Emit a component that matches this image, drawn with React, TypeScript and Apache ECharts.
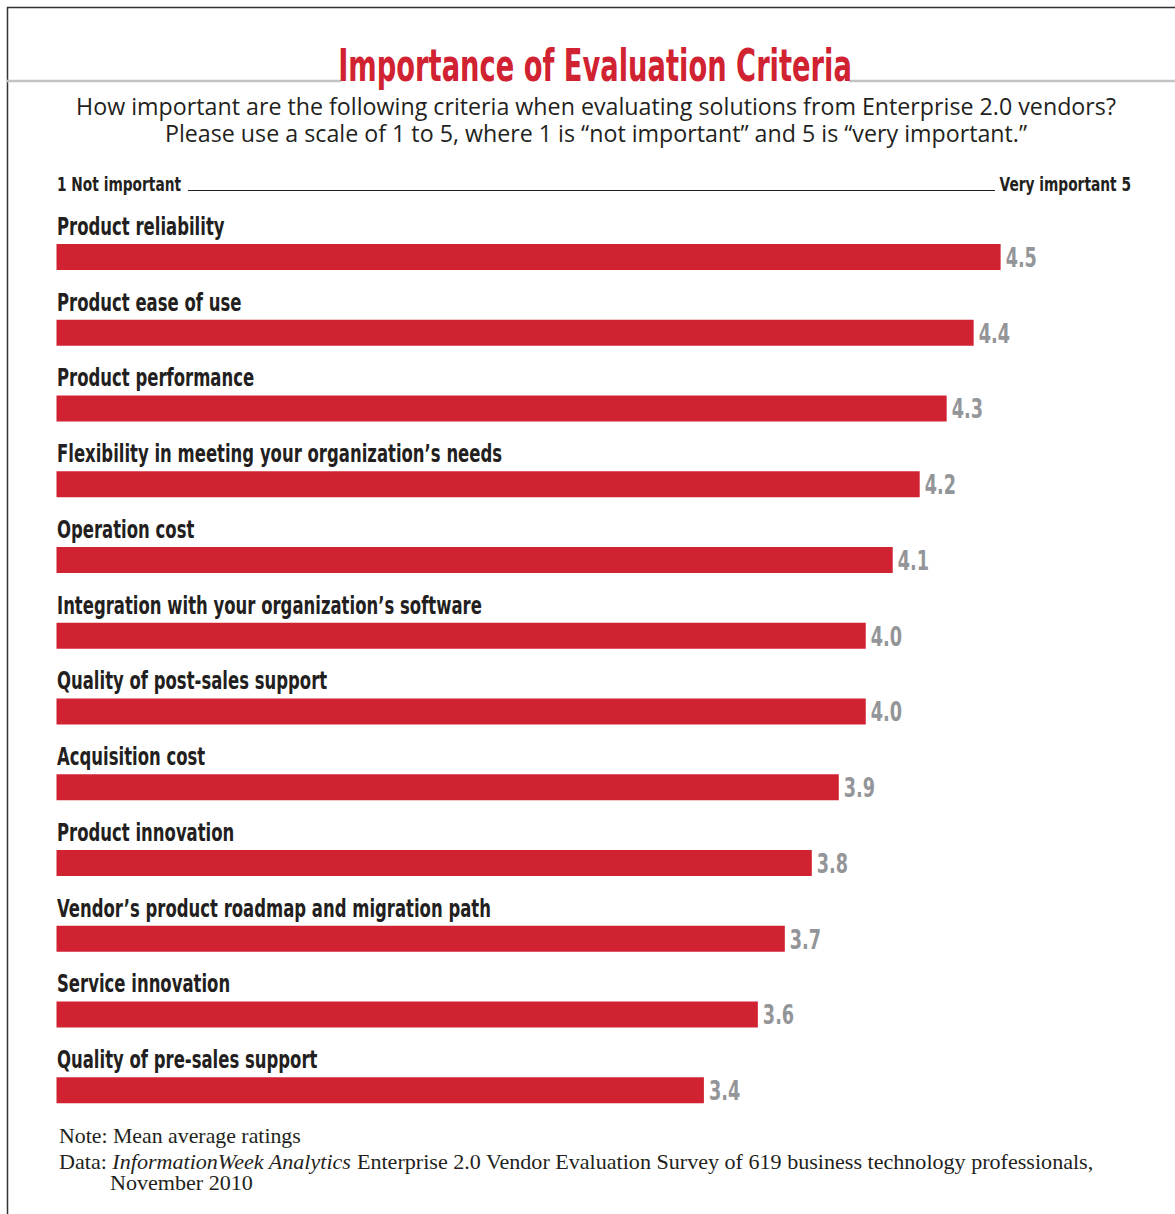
import React, { useEffect, useRef } from "react";
import * as echarts from "echarts";

const categories = [
  "Product reliability",
  "Product ease of use",
  "Product performance",
  "Flexibility in meeting your organization’s needs",
  "Operation cost",
  "Integration with your organization’s software",
  "Quality of post-sales support",
  "Acquisition cost",
  "Product innovation",
  "Vendor’s product roadmap and migration path",
  "Service innovation",
  "Quality of pre-sales support",
];
const values = [4.5, 4.4, 4.3, 4.2, 4.1, 4.0, 4.0, 3.9, 3.8, 3.7, 3.6, 3.4];
const scaleMin = 1;
const scaleMax = 5;
const scaleLabels = ["1 Not important", "Very important 5"];

const title = "Importance of Evaluation Criteria";
const subtitle = [
  "How important are the following criteria when evaluating solutions from Enterprise 2.0 vendors?",
  "Please use a scale of 1 to 5, where 1 is “not important” and 5 is “very important.”",
];
const noteText = "Note: Mean average ratings";
const dataPrefix = "Data: ";
const dataSource = "InformationWeek Analytics";
const dataRest = " Enterprise 2.0 Vendor Evaluation Survey of 619 business technology professionals,";
const dataDate = "November 2010";

const COND = "'DejaVu Sans Condensed', 'DejaVu Sans', sans-serif";
const SERIF = "'Liberation Serif', serif";
const RED = "#d12232";
const GRAY = "#939598";
const INK = "#231f20";
const NARROW = 0.748;

export default function App() {
  const ref = useRef<HTMLDivElement>(null);
  useEffect(() => {
    if (!ref.current) return;
    const chart = echarts.init(ref.current, null, { renderer: "svg" });
    chart.setOption({
      animation: false,
      backgroundColor: "#ffffff",
      grid: { left: 56.5, width: 1079, top: 219, height: 909, containLabel: false },
      xAxis: {
        type: "value",
        min: scaleMin,
        max: scaleMax,
        show: false,
      },
      yAxis: {
        type: "category",
        data: categories,
        inverse: true,
        axisLine: { show: false },
        axisTick: { show: false },
        splitLine: { show: false },
        axisLabel: { show: false },
      },
      series: [
        {
          type: "bar",
          data: values,
          barWidth: 26,
          itemStyle: { color: RED },
        },
        {
          type: "custom",
          data: values.map((v, i) => [v, i]),
          encode: { x: 0, y: 1 },
          clip: false,
          z: 5,
          renderItem: (params: any, api: any) => {
            const v = api.value(0);
            const idx = api.value(1);
            const start = api.coord([scaleMin, idx]);
            const end = api.coord([v, idx]);
            return {
              type: "group",
              children: [
                {
                  type: "text",
                  x: start[0] + 0.5,
                  y: start[1] - 30.5,
                  scaleX: NARROW,
                  style: {
                    text: categories[idx],
                    fill: INK,
                    font: `bold 24.5px ${COND}`,
                    align: "left",
                    verticalAlign: "middle",
                  },
                },
                {
                  type: "text",
                  x: end[0] + 5,
                  y: end[1] + 1,
                  scaleX: 0.755,
                  style: {
                    text: Number(v).toFixed(1),
                    fill: GRAY,
                    font: `bold 26px ${COND}`,
                    align: "left",
                    verticalAlign: "middle",
                  },
                },
              ],
            };
          },
        },
      ],
      graphic: [
        { type: "line", shape: { x1: 7, y1: 7.5, x2: 1175, y2: 7.5 }, style: { stroke: "#333", lineWidth: 1.5 } },
        { type: "line", shape: { x1: 7.5, y1: 7, x2: 7.5, y2: 1214 }, style: { stroke: "#333", lineWidth: 1.5 } },
        { type: "line", shape: { x1: 7, y1: 81, x2: 341, y2: 81 }, style: { stroke: "#c3c3c6", lineWidth: 2.5 } },
        { type: "line", shape: { x1: 849, y1: 81, x2: 1175, y2: 81 }, style: { stroke: "#c3c3c6", lineWidth: 2.5 } },
        {
          type: "text",
          x: 595,
          y: 65.5,
          scaleX: 0.69,
          style: {
            text: title,
            fill: RED,
            font: `bold 44px ${COND}`,
            align: "center",
            verticalAlign: "middle",
          },
        },
        {
          type: "text",
          x: 596,
          y: 119.5,
          scaleX: 1.01,
          style: {
            text: subtitle.join("\n"),
            fill: INK,
            font: `23px 'Open Sans', sans-serif`,
            lineHeight: 27,
            align: "center",
            verticalAlign: "middle",
          },
        },
        {
          type: "text",
          x: 57,
          y: 183.5,
          scaleX: 0.765,
          style: { text: scaleLabels[0], fill: INK, font: `bold 20px ${COND}`, align: "left", verticalAlign: "middle" },
        },
        {
          type: "text",
          x: 1131,
          y: 183.5,
          scaleX: 0.765,
          style: { text: scaleLabels[1], fill: INK, font: `bold 20px ${COND}`, align: "right", verticalAlign: "middle" },
        },
        { type: "line", shape: { x1: 188, y1: 190.5, x2: 995, y2: 190.5 }, style: { stroke: INK, lineWidth: 1.2 } },
        {
          type: "text",
          x: 59,
          y: 1136,
          scaleX: 1.04,
          style: { text: noteText, fill: INK, font: `21px ${SERIF}`, verticalAlign: "middle" },
        },
        {
          type: "text",
          x: 59,
          y: 1162,
          scaleX: 1.052,
          style: {
            text: `${dataPrefix}{i|${dataSource}}${dataRest}`,
            fill: INK,
            font: `21px ${SERIF}`,
            verticalAlign: "middle",
            rich: { i: { fontStyle: "italic", fontFamily: SERIF, fontSize: 21, fill: INK } },
          },
        },
        {
          type: "text",
          x: 110,
          y: 1183,
          scaleX: 1.052,
          style: { text: dataDate, fill: INK, font: `21px ${SERIF}`, verticalAlign: "middle" },
        },
      ],
    });
    return () => chart.dispose();
  }, []);
  return (
    <div
      ref={ref}
      style={{ position: "absolute", left: 0, top: 0, width: 1175, height: 1214 }}
    />
  );
}
